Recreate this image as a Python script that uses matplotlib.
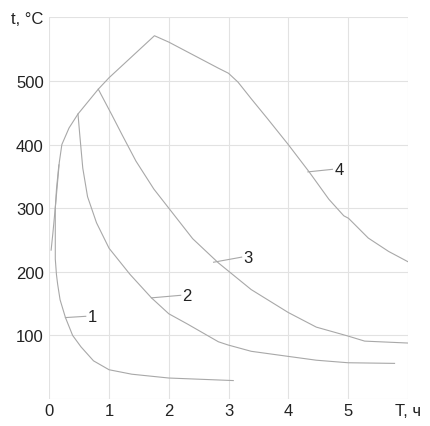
"""
Диаграмма температура-время (кривые 1-4)
"""
import matplotlib
matplotlib.use("Agg")
import matplotlib.pyplot as plt

# огибающая (нагрев + кривая 4)
env_x = [0.03, 0.06, 0.107, 0.167, 0.21, 0.33, 0.48, 0.82, 1.0, 1.76, 2.0, 2.83,
         3.0, 3.16, 3.38, 3.65, 4.0, 4.35, 4.68, 4.93, 5.01, 5.34, 5.68, 6.0]
env_t = [234, 261, 308, 372, 400, 426, 448, 487, 505, 571, 561, 520,
         512, 498, 472, 441, 400, 357, 314, 288, 284, 253, 232, 216]

# кривая 1
c1_x = [0.16, 0.12, 0.10, 0.10, 0.12, 0.14, 0.18, 0.27, 0.39, 0.53, 0.74, 1.0, 1.38, 2.0, 3.08]
c1_t = [368, 330, 300, 220, 195, 180, 156, 128, 100, 82, 60, 46, 39, 33, 29]

# кривая 2
c2_x = [0.48, 0.51, 0.56, 0.64, 0.79, 1.0, 1.35, 1.71, 2.0, 2.31, 2.83, 2.99, 3.38, 4.0, 4.47, 5.0, 5.78]
c2_t = [448, 415, 363, 318, 277, 237, 196, 159, 134, 118, 90, 85, 75, 67, 61, 57, 56]

# кривая 3
c3_x = [0.82, 0.87, 1.05, 1.22, 1.45, 1.75, 2.0, 2.4, 2.83, 3.0, 3.38, 4.0, 4.47, 5.0, 5.28, 6.0]
c3_t = [487, 478, 446, 415, 374, 330, 300, 252, 214, 201, 172, 136, 113, 99, 91, 88]

# подписи кривых: (номер, начало выноски, конец выноски)
labels = ["1", "2", "3", "4"]
lead_from = [(0.27, 128), (1.71, 159), (2.75, 215), (4.33, 357)]
lead_to = [(0.61, 130), (2.2, 163), (3.22, 223), (4.74, 361)]

x_ticks = [0, 1, 2, 3, 4, 5, 6]
x_tick_labels = ["0", "1", "2", "3", "4", "5", "T, ч"]
y_ticks = [100, 200, 300, 400, 500, 600]
y_tick_labels = ["100", "200", "300", "400", "500", "t, °C"]

plt.rcParams["font.family"] = ["Liberation Sans", "DejaVu Sans"]
fig = plt.figure(figsize=(4.3, 4.27), dpi=100)
ax = fig.add_axes([0.1147, 0.0632, 0.8334, 0.894])

line_color = "#a8a8a8"
for xs, ts in [(env_x, env_t), (c1_x, c1_t), (c2_x, c2_t), (c3_x, c3_t)]:
    ax.plot(xs, ts, color=line_color, lw=0.8)

for lab, p0, p1 in zip(labels, lead_from, lead_to):
    ax.plot([p0[0], p1[0]], [p0[1], p1[1]], color=line_color, lw=0.8)
    ax.text(p1[0] + 0.03, p1[1], lab, fontsize=12, color="#222222",
            ha="left", va="center")

ax.set_xlim(0, 6)
ax.set_ylim(0, 600)
ax.set_xticks(x_ticks)
ax.set_xticklabels(x_tick_labels)
ax.set_yticks([0] + y_ticks)
ax.set_yticklabels([""] + y_tick_labels)
ax.tick_params(length=0, labelsize=12, labelcolor="#222222")
ax.tick_params(axis="x", pad=3)
ax.tick_params(axis="y", pad=4)
ax.grid(True, color="#e2e2e2", lw=0.8)
ax.set_axisbelow(True)
for s in ax.spines.values():
    s.set_visible(False)

plt.savefig("out.png", dpi=100)
